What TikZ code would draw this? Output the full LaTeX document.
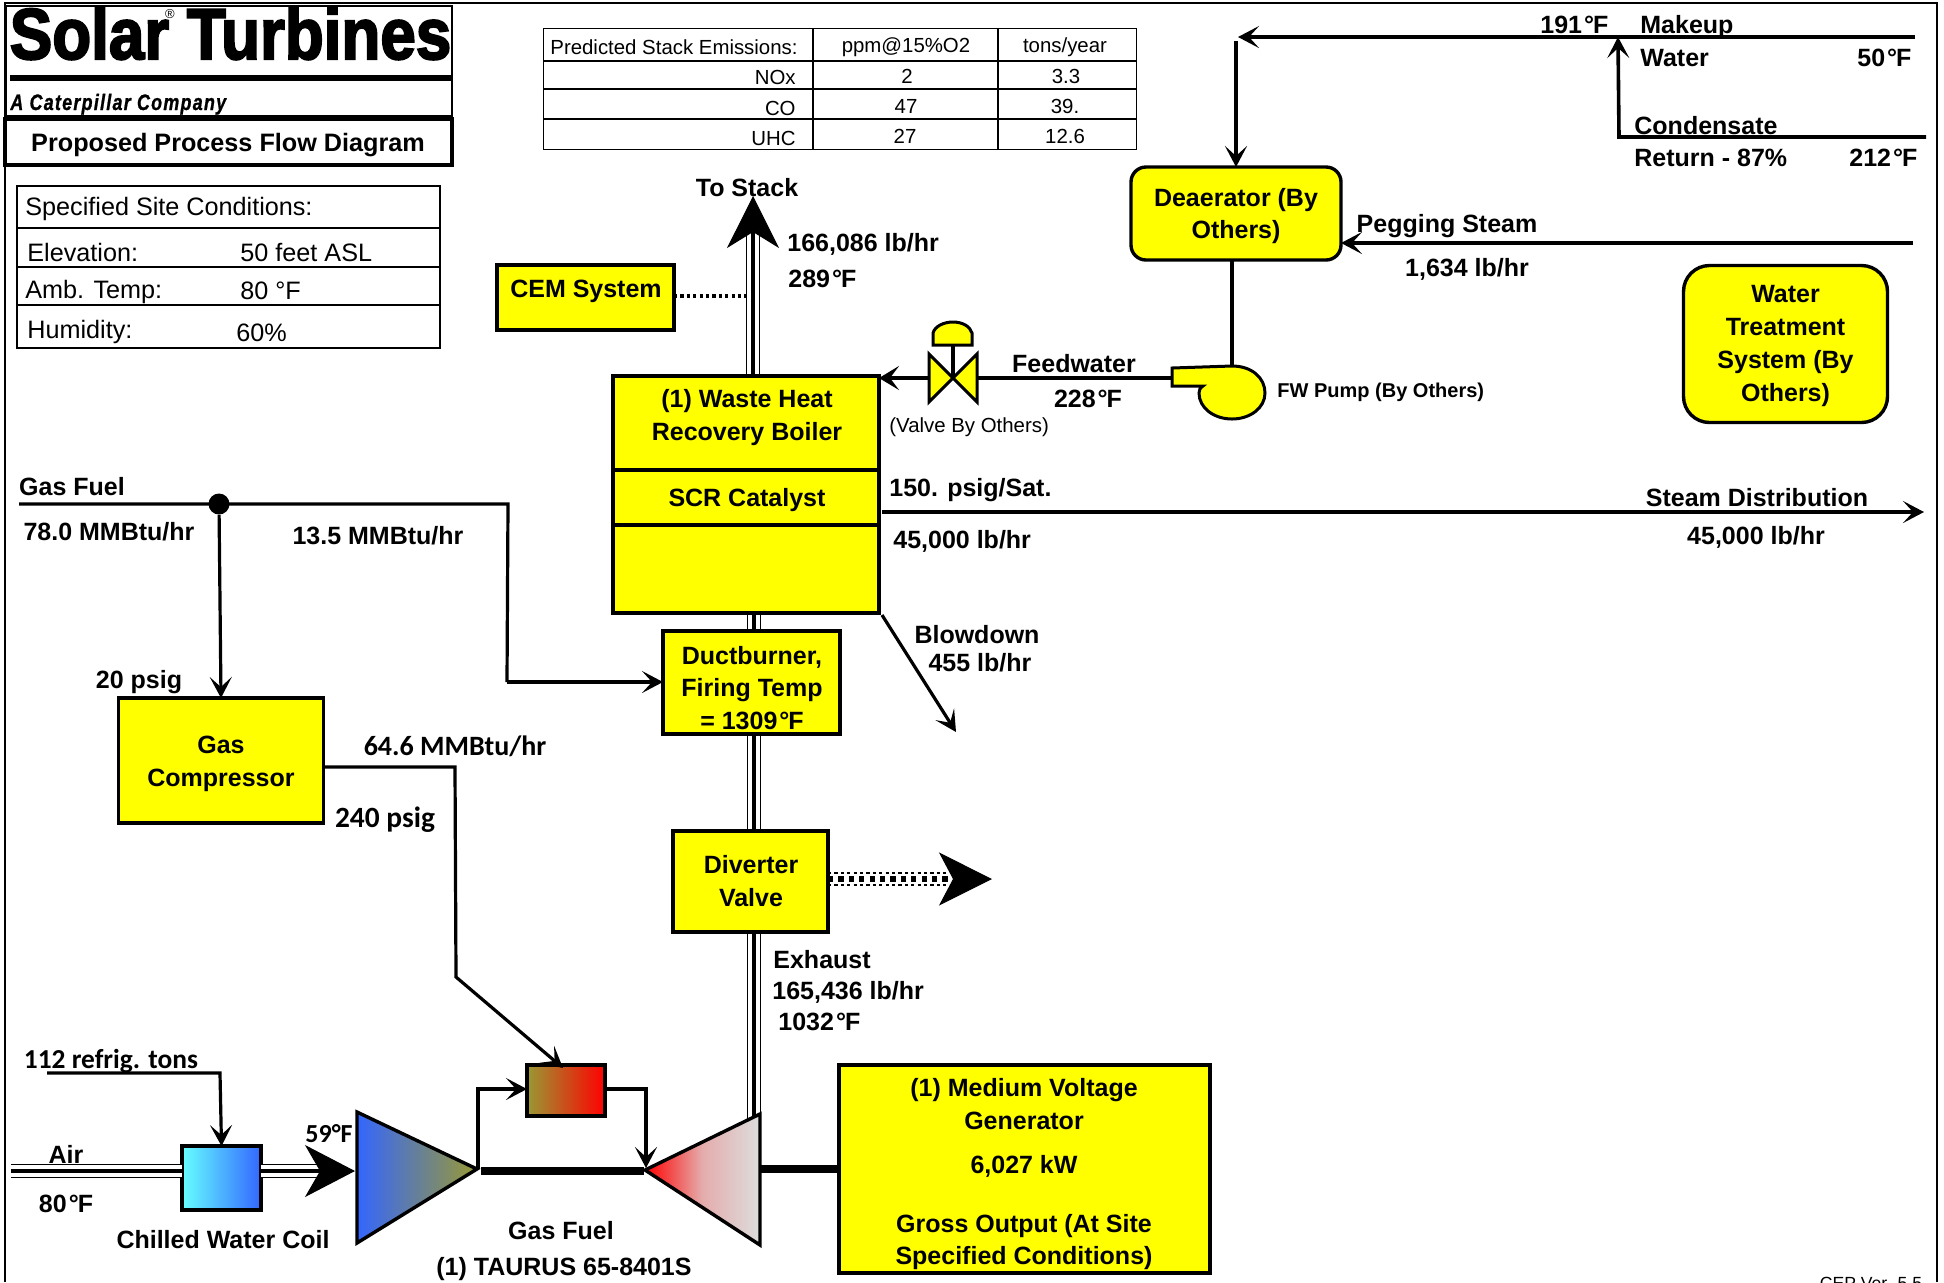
\documentclass[tikz,border=0pt]{standalone}
\usepackage{fontspec}
\usepackage{graphicx}
\setmainfont{Liberation Sans}
\newfontfamily\carl{Carlito}
\newfontfamily\logof[FakeBold=3]{Liberation Sans Bold}
\newfontfamily\catf[LetterSpace=7,FakeBold=1]{Liberation Sans Bold Italic}
\usetikzlibrary{arrows.meta,shapes.geometric,calc}
\definecolor{yel}{HTML}{FFFF00}
\definecolor{cyn}{HTML}{66FFFF}
\definecolor{blu}{HTML}{3366FF}
\definecolor{oli}{HTML}{999933}
\definecolor{rdd}{HTML}{FF0000}
\definecolor{gry}{HTML}{DDDDDD}
\newcommand{\df}{\kern.08em°\kern-.04em F}
\tikzset{
  x=0.5pt,y=-0.5pt,
  lab/.style={font=\fontsize{12.5}{16.4}\selectfont\bfseries,inner sep=0pt,align=center},
  lableft/.style={lab,anchor=west},
  cal/.style={font=\fontsize{14}{16}\selectfont\bfseries\carl,inner sep=0pt,align=center},
  reg/.style={font=\fontsize{12.6}{14}\selectfont,inner sep=0pt,anchor=west},
  em/.style={font=\fontsize{10.2}{12}\selectfont,inner sep=0pt},
  box/.style={draw=black,fill=yel,line width=1.7pt,inner sep=0pt,outer sep=0pt},
  rbox/.style={box,rounded corners=#1},
  gbox/.style={draw=black,line width=1.7pt,inner sep=0pt,outer sep=0pt},
  tbl/.style={draw=black,line width=.75pt},
  flow/.style={draw=black,line width=1.6pt},
  head/.style={-{Stealth[length=10.5pt,width=11pt,inset=5pt]}},
  pipeo/.style={line width=7.2pt,black},
  pipew/.style={line width=5.8pt,white},
  pipec/.style={line width=2.3pt,black},
  shaft/.style={line width=3.8pt,black},
}
\newcommand{\pipe}[2]{\draw[pipeo] #1 -- #2;\draw[pipew] #1 -- #2;\draw[pipec] #1 -- #2;}
\begin{document}
\begin{tikzpicture}
\useasboundingbox (0,0) rectangle (1944,1282);
% frame
\draw[line width=1.1pt] (5,1282) -- (5,3) -- (1937,3) -- (1937,1282);
% logo
\node[draw,line width=1pt,minimum width=223pt,minimum height=55pt,inner sep=0pt] (logo) at (229,61) {};
\node[inner sep=0pt,anchor=base] (logot) at (230.5,59) {\fontsize{36}{36}\logof\scalebox{.885}[1]{Solar Turbines}};
\node[inner sep=0pt,font=\fontsize{6.5}{6.5}\selectfont] (reg) at (170,14) {®};
\draw[line width=3pt] (10,78) coordinate (lr1) -- (logo.east |- 0,78) coordinate (lr2);
\node[inner sep=0pt,anchor=base west] (cat) at (10,110) {\fontsize{11.2}{12}\catf\scalebox{.8}[1]{A Caterpillar Company}};
\node[draw,line width=1.6pt,minimum width=223.5pt,minimum height=23pt,inner sep=0pt] (title) at (228.5,142) {};
\node[lab,font=\fontsize{12.6}{16}\selectfont\bfseries,anchor=base] (titlet) at (228,151) {Proposed Process Flow Diagram};
% site table
\node[tbl,minimum width=211.5pt,minimum height=81pt,inner sep=0pt] (site) at (228.5,267) {};
\foreach \yy in {228,267,305} \draw[tbl] (site.west |- 0,\yy) -- (site.east |- 0,\yy);
\node[reg] (s0) at (25,209) {Specified Site Conditions:};
\node[reg] (s1) at (27,252) {Elevation:};
\node[reg] (s1v) at (240,252) {50 feet ASL};
\node[reg] (s2) at (25,292) {Amb. Temp:};
\node[reg] (s2v) at (240,291) {80 °F};
\node[reg] (s3) at (27,332) {Humidity:};
\node[reg] (s3v) at (236,333) {60\%};
% emissions table
\node[tbl,minimum width=296.5pt,minimum height=60.5pt,inner sep=0pt] (em) at (840,89) {};
\foreach \yy in {61,89,119} \draw[tbl] (em.west |- 0,\yy) -- (em.east |- 0,\yy);
\foreach \xx in {813,998} \draw[tbl] (\xx,0 |- em.north) -- (\xx,0 |- em.south);
\node[em,anchor=west] (e0) at (550,47) {Predicted Stack Emissions:};
\node[em] (e1) at (906,47) {ppm@15\%O2};
\node[em] (e2) at (1065,47) {tons/year};
\node[em,anchor=east] (e3) at (796,77) {NOx};
\node[em] (e4) at (907,76) {2};
\node[em] (e5) at (1066,76) {3.3};
\node[em,anchor=east] (e6) at (796,108) {CO};
\node[em] (e7) at (906,106) {47};
\node[em] (e8) at (1065,106) {39.};
\node[em,anchor=east] (e9) at (796,138) {UHC};
\node[em] (e10) at (905,136) {27};
\node[em] (e11) at (1065,136) {12.6};
% pipes (drawn first)
\coordinate (stacktop) at (753,232);
\coordinate (stacktip) at (753,196);
\pipe{(753,376)}{(stacktop)}
\pipe{(754,613)}{(754,640)}
\pipe{(754,734)}{(754,840)}
\pipe{(754,932)}{(754,1125)}
% boiler
\node[box,minimum width=133pt,minimum height=47pt] (wh) at (746,423) {};
\node[box,minimum width=133pt,minimum height=27.5pt] (scr) at (746,497.5) {};
\node[box,minimum width=133pt,minimum height=44pt] (low) at (746,569) {};
\node[lab] (wht) at (747,417.5) {(1) Waste Heat\\Recovery Boiler};
\node[lab] (scrt) at (747,500.5) {SCR Catalyst};
\draw[line width=.5pt,-{Stealth[length=26pt,width=26pt,inset=8pt]}] (stacktop) -- (stacktip);
\node[lab] (tostack) at (747,187.5) {To Stack};
\node[lableft] (f1) at (787,244) {166,086 lb/hr};
\node[lableft] (f2) at (788,279) {289\df};
% CEM
\node[box,minimum width=88.5pt,minimum height=32.5pt] (cem) at (585.5,297.5) {};
\node[lab] (cemt) at (586,291) {CEM System};
\draw[line width=1.6pt,dash pattern=on 1.6pt off 1.6pt] (cem.east |- 0,296) -- (746,296);
% ductburner, diverter
\node[box,minimum width=88.5pt,minimum height=51.5pt] (duct) at (751.5,682.5) {};
\node[lab] (ductt) at (752,688) {Ductburner,\\Firing Temp\\= 1309\df};
\node[box,minimum width=77.5pt,minimum height=50.5pt] (div) at (750.5,881.5) {};
\node[lab] (divt) at (751,881) {Diverter\\Valve};
% diverter exhaust
\coordinate (divtip) at (992,879);
\coordinate (divend) at (955,879);
\draw[line width=1.1pt,dash pattern=on 1.6pt off 1.6pt] (div.east |- 0,873) -- (955,873);
\draw[line width=1.1pt,dash pattern=on 1.6pt off 1.6pt] (div.east |- 0,885) -- (955,885);
\draw[line width=2.8pt,dash pattern=on 2.6pt off 2.6pt] (div.east |- 0,879) -- (divend);
\draw[line width=.5pt,-{Stealth[length=26.5pt,width=26.5pt,inset=7pt]}] (divend) -- (divtip);
% exhaust labels
\node[lableft] (x1) at (773,960) {Exhaust};
\node[lableft] (x2) at (772,992) {165,436 lb/hr};
\node[lableft] (x3) at (778,1022) {1032\df};
% blowdown
\coordinate (bdstart) at (882,615);
\coordinate (bdtip) at (956,732);
\draw[flow,head] (bdstart) -- (bdtip);
\node[lab] (bd1) at (977,634.5) {Blowdown};
\node[lab] (bd2) at (980,662.5) {455 lb/hr};
% steam
\coordinate (st0) at (882,512);
\coordinate (st1) at (1924,512);
\draw[flow,head] (st0) -- (st1);
\node[lableft] (st2) at (889,490.5) {150. psig/Sat.};
\node[lableft] (st3) at (893,541) {45,000 lb/hr};
\node[lab] (st4) at (1757,498) {Steam Distribution};
\node[lab] (st5) at (1756,537) {45,000 lb/hr};
% valve
\coordinate (vc) at (953,378);
\draw[flow] (vc) -- (953,345);
\filldraw[fill=yel,line width=1.5pt,miter limit=10] (vc) -- (929,354) -- (929,402) -- cycle;
\filldraw[fill=yel,line width=1.5pt] (vc) -- (977,354) -- (977,402) -- cycle;
\filldraw[fill=yel,line width=1.5pt] (933,345) -- (933,333) .. controls (935,326) and (944,322) .. (953,322) .. controls (962,322) and (970,326) .. (972,333) -- (972,345) -- cycle;
\draw[flow,-{Stealth[length=10pt,width=12pt,inset=4.5pt]}] (929,378) -- (wh.east |- 0,378);
\coordinate (fwend) at (1172,378);
\draw[flow] (977,378) -- (fwend);
\node[lab] (fw1) at (1074,363.5) {Feedwater};
\node[lab] (fw2) at (1088,399) {228\df};
\node[reg,font=\fontsize{10.2}{12}\selectfont] (vb) at (889,427) {(Valve By Others)};
% pump
\coordinate (pc) at (1232,393);
\draw[flow] (1232,260) -- (1232,366);
\filldraw[fill=yel,line width=1.5pt] (1172,368) -- (1232,366) .. controls (1252,366) and (1265,378) .. (1265,393) .. controls (1265,408) and (1250,419) .. (1232,419) .. controls (1214,419) and (1199,408) .. (1199,393) .. controls (1199,390) and (1200,388) .. (1203,386) -- (1172,386) -- cycle;
\node[reg,font=\fontsize{10}{12}\selectfont\bfseries] (fwp) at (1277,392) {FW Pump (By Others)};
% deaerator
\node[rbox=7.5pt,minimum width=105pt,minimum height=46.5pt] (dea) at (1236,213.5) {};
\node[lab] (deat) at (1236,216) {Deaerator (By\\Others)};
\coordinate (mk0) at (1915,37);
\coordinate (mk1) at (1238,37);
\draw[line width=1.8pt,head] (mk0) -- (mk1);
\coordinate (vt0) at (1236,41);
\draw[flow,head] (vt0) -- (dea.north);
\coordinate (pg0) at (1913,243);
\draw[line width=1.8pt,head] (pg0) -- (dea.east |- pg0);
\node[lab] (pg1) at (1447,226) {Pegging Steam};
\node[lab] (pg2) at (1467,269) {1,634 lb/hr};
\node[lableft] (t191) at (1540,25) {191\df};
\node[lableft] (mkl) at (1640,27) {Makeup};
\node[lableft] (wtl) at (1640,58) {Water};
\node[lableft] (t50) at (1857,58) {50\df};
\coordinate (cd0) at (1926,137);
\coordinate (cd1) at (1619,137);
\coordinate (cd2) at (1618,37);
\draw[line width=1.8pt,head] (cd0) -- (cd1) -- (cd2);
\node[lableft] (cdl) at (1634,126) {Condensate};
\node[lableft] (rtl) at (1634,158) {Return - 87\%};
\node[lableft] (t212) at (1849,158) {212\df};
% water treatment
\node[rbox=13pt,minimum width=102pt,minimum height=78.5pt] (wt) at (1785.5,344) {};
\node[lab] (wtt) at (1785.5,346) {Water\\Treatment\\System (By\\Others)};
% gas fuel
\coordinate (gf0) at (19,504);
\coordinate (gf1) at (508,504);
\coordinate (gf2) at (507,682);
\node[circle,fill=black,minimum size=10.5pt,inner sep=0pt] (gfdot) at (219,504) {};
\draw[flow] (gf0) -- (gf1) -- (gf2);
\node[box,minimum width=102.5pt,minimum height=62.5pt] (gc) at (221,760.5) {};
\node[lab] (gct) at (221,763.5) {Gas\\Compressor};
\node[gbox,left color=oli,right color=rdd,minimum width=39pt,minimum height=25.5pt] (cb) at (566,1090.5) {};
\draw[flow,head] (gf2) -- (duct.west |- gf2);
\draw[flow,head] (gfdot) -- (gc.north);
\node[lab] (gf3) at (72,487) {Gas Fuel};
\node[lab] (gf4) at (109,532) {78.0 MMBtu/hr};
\node[lab] (gf5) at (378,536) {13.5 MMBtu/hr};
\node[lab] (p20) at (139,682) {20 psig};
\node[cal] (m64) at (455,746) {64.6 MMBtu/hr};
\node[cal,font=\fontsize{14.7}{16}\selectfont\bfseries\carl] (p240) at (385,820) {240 psig};
% compressor line
\coordinate (gl1) at (455,767);
\coordinate (gl2) at (456,977);
\coordinate (gl3) at (563,1068);
\draw[flow,head] (gc.east |- gl1) -- (gl1) -- (gl2) -- (gl3);
% engine
\coordinate (cA) at (357,1112); \coordinate (cB) at (357,1243); \coordinate (cT) at (477,1169);
\coordinate (tA) at (760,1114); \coordinate (tB) at (760,1245); \coordinate (tT) at (645,1170);
\coordinate (sh0) at (481,1171);
\coordinate (sh1) at (644,1171);
\draw[shaft] (sh0) -- (sh1);
\shadedraw[draw=black,line width=1.7pt,left color=blu,right color=oli,line join=miter] (cA) -- (cT) -- (cB) -- cycle;
\shadedraw[draw=black,line width=1.7pt,left color=rdd,right color=gry,middle color=rdd!22!gry,line join=miter] (tA) -- (tT) -- (tB) -- cycle;
\draw[flow,head] (478,1169) -- (478,1089) -- (cb.west |- 0,1089);
\draw[flow,head] (cb.east |- 0,1089) -- (646,1089) -- (646,1168);
\node[lab] (gfl) at (561,1231) {Gas Fuel};
\node[lab] (tau) at (564,1269) {(1) TAURUS 65-8401S};
% generator
\node[box,minimum width=185.5pt,minimum height=104pt] (gen) at (1024.5,1169) {};
\draw[shaft] (tA |- 0,1169) -- (gen.west |- 0,1169);
\node[lab] (g1) at (1024,1104) {(1) Medium Voltage\\Generator};
\node[lab] (g2) at (1024,1166) {6,027 kW};
\node[lab] (g3) at (1024,1242) {Gross Output (At Site\\Specified Conditions)};
% air
\node[gbox,left color=cyn,right color=blu,minimum width=39.5pt,minimum height=32pt] (coil) at (221.5,1178) {};
\coordinate (air0) at (11,1171);
\coordinate (airh) at (320,1171);
\coordinate (airt) at (355,1171);
\pipe{(air0)}{(coil.west |- air0)}
\pipe{(coil.east |- air0)}{(airh)}
\draw[line width=.5pt,-{Stealth[length=25pt,width=26pt,inset=7.5pt]}] (airh) -- (airt);
\coordinate (rf0) at (47,1073);
\coordinate (rf1) at (220,1073);
\draw[flow,head] (rf0) -- (rf1) -- (coil.north);
\node[cal,font=\fontsize{13.7}{16}\selectfont\bfseries\carl] (rft) at (111,1061) {112 refrig. tons};
\node[lab] (airl) at (66,1154) {Air};
\node[lab] (airT) at (66,1204) {80\df};
\node[lab] (cwc) at (223,1240) {Chilled Water Coil};
\node[cal,font=\fontsize{13}{16}\selectfont\bfseries\carl] (t59) at (329,1134) {59°F};
% version
\node[em,anchor=base,font=\fontsize{8.8}{10}\selectfont] (ver) at (1871,1289) {CEP Ver. 5.5};
\end{tikzpicture}
\end{document}
